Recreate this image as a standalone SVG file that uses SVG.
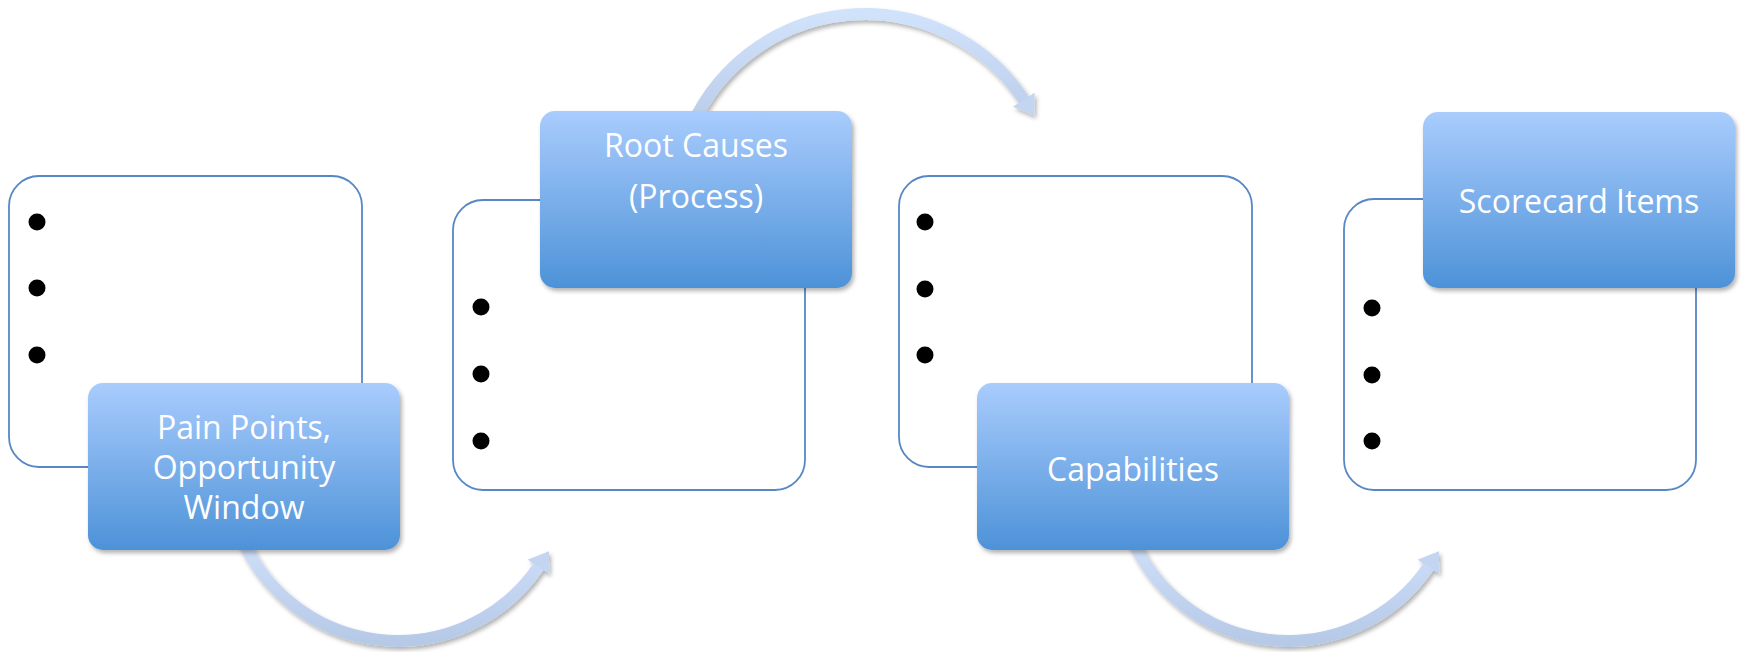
<svg xmlns="http://www.w3.org/2000/svg" width="1745" height="652" viewBox="0 0 1745 652">
  <style>
    .frame { fill: #ffffff; stroke: #5787c5; stroke-width: 1.8; }
    .bullet { fill: #000000; }
    .card { fill: url(#cardGrad); filter: url(#shadow); }
    .label { font-family: "Open Sans", "Liberation Sans", sans-serif; font-size: 32px; fill: #ffffff; text-anchor: middle; }
    .arc { fill: none; stroke: url(#arcGrad); stroke-width: 12; filter: url(#shadow); marker-end: url(#head); }
  </style>
  <defs>
    <linearGradient id="cardGrad" x1="0" y1="0" x2="0" y2="1">
      <stop offset="0" stop-color="#a9ccfd"/>
      <stop offset="1" stop-color="#4d92d8"/>
    </linearGradient>
    <linearGradient id="arcGrad" x1="0" y1="0" x2="0" y2="1">
      <stop offset="0" stop-color="#d1e2fb"/>
      <stop offset="1" stop-color="#b6c9e7"/>
    </linearGradient>
    <filter id="shadow" x="-10%" y="-10%" width="125%" height="130%">
      <feDropShadow dx="2" dy="3" stdDeviation="2.2" flood-color="#000000" flood-opacity="0.3"/>
    </filter>
    <marker id="head" markerUnits="userSpaceOnUse" markerWidth="22" markerHeight="28" refX="1" refY="13" orient="auto">
      <path d="M0,0 L19,13 L0,26 z" fill="#c3d5f1"/>
    </marker>
  </defs>

  <g id="connectors">
    <path class="arc" d="M238.3,529.1 A170,170 0 0,0 538.9,566.1"/>
    <path class="arc" d="M686.5,139 A190,190 0 0,1 1024.3,100.5"/>
    <path class="arc" d="M1128.3,529.1 A170,170 0 0,0 1428.9,566.1"/>
  </g>

  <g id="node-pain-points">
    <rect class="frame" x="9" y="176" width="353" height="291" rx="30"/>
    <circle class="bullet" cx="37" cy="222" r="8.5"/>
    <circle class="bullet" cx="37" cy="288" r="8.5"/>
    <circle class="bullet" cx="37" cy="355" r="8.5"/>
    <rect class="card" x="88" y="383" width="312" height="167" rx="15"/>
    <text class="label" x="244" y="439"><tspan x="244">Pain Points,</tspan><tspan x="244" dy="40">Opportunity</tspan><tspan x="244" dy="40">Window</tspan></text>
  </g>

  <g id="node-root-causes">
    <rect class="frame" x="453" y="200" width="352" height="290" rx="30"/>
    <circle class="bullet" cx="481" cy="307" r="8.5"/>
    <circle class="bullet" cx="481" cy="374" r="8.5"/>
    <circle class="bullet" cx="481" cy="441" r="8.5"/>
    <rect class="card" x="540" y="111" width="312" height="177" rx="15"/>
    <text class="label" x="696" y="157"><tspan x="696">Root Causes</tspan><tspan x="696" dy="51">(Process)</tspan></text>
  </g>

  <g id="node-capabilities">
    <rect class="frame" x="899" y="176" width="353" height="291" rx="30"/>
    <circle class="bullet" cx="925" cy="222" r="8.5"/>
    <circle class="bullet" cx="925" cy="289" r="8.5"/>
    <circle class="bullet" cx="925" cy="355" r="8.5"/>
    <rect class="card" x="977" y="383" width="312" height="167" rx="15"/>
    <text class="label" x="1133" y="481">Capabilities</text>
  </g>

  <g id="node-scorecard">
    <rect class="frame" x="1344" y="199" width="352" height="291" rx="30"/>
    <circle class="bullet" cx="1372" cy="308" r="8.5"/>
    <circle class="bullet" cx="1372" cy="375" r="8.5"/>
    <circle class="bullet" cx="1372" cy="441" r="8.5"/>
    <rect class="card" x="1423" y="112" width="312" height="176" rx="15"/>
    <text class="label" x="1579" y="213">Scorecard Items</text>
  </g>
</svg>
